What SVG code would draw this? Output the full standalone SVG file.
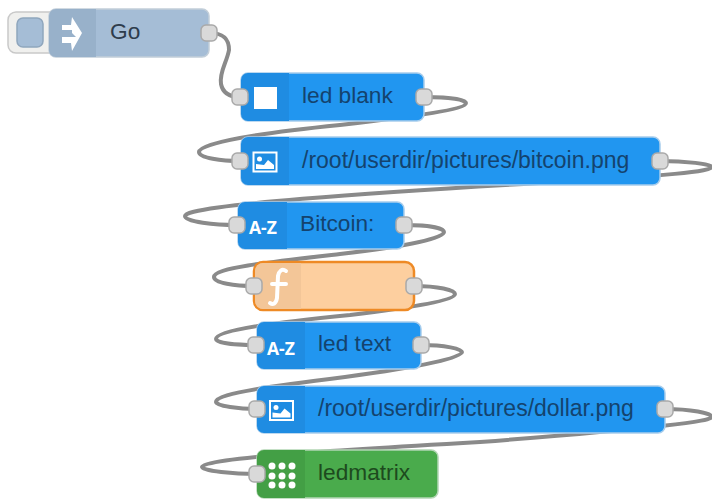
<svg xmlns="http://www.w3.org/2000/svg" width="712" height="500" viewBox="0 0 712 500">
<style>
text{font-family:"Liberation Sans",Arial,sans-serif;font-size:22.700px}
.long{font-size:23px}
.wire{fill:none;stroke:#8a8a8a;stroke-width:4}
.port{fill:#d9d9d9;stroke:#a9a9a9;stroke-width:1.5}
.blue{fill:#2196f0;stroke:#a8cdec;stroke-width:1.5}
.tab{fill:#1f8ce2}
.lbl{fill:#14436e}
.ic{fill:#fff}
.az{font-family:"Open Sans","Liberation Sans",sans-serif;font-size:17.500px;font-weight:700;fill:#fff}
</style>
<defs>
<g id="img"><rect x="-11.500" y="-9.500" width="23" height="19" fill="none" stroke="#fff" stroke-width="2"/><circle cx="-5.500" cy="-3" r="2.500" fill="#fff"/><path d="M-9 7V2L-5 2.500L-1 3L3 -2L9 3V7Z" fill="#fff"/></g>
<rect id="p" x="-8" y="-8" width="16" height="16" rx="5"/>
</defs>
<g id="connectors" class="wires">
<path class="wire" d="M209 33C226 33 229 41 229 50C227 62 219 72 221 84C223 94 231 97 240 97"/>
<path class="wire" d="M424 97C450 97 466 100 466 103C466 109 420 116 340 125C260 133 199 143 199 152C199 158 222 161 240 161"/>
<path class="wire" d="M660 161C685 161 712 164 712 167C712 171 670 176 540 183C380 192 185 205 185 216C185 222 215 225 237 225"/>
<path class="wire" d="M404 225C428 225 444 228 444 232C444 238 410 246 340 254C270 262 214 268 214 277C214 283 235 286 254 286"/>
<path class="wire" d="M414 286C438 286 455 290 455 294C455 300 415 307 350 315C280 322 216 330 216 339C216 343 235 345 256 345"/>
<path class="wire" d="M421 345C445 345 462 349 462 352C462 358 420 367 345 377C280 385 216 393 216 402C216 406 240 409 257 409"/>
<path class="wire" d="M665 409C690 409 712 413 712 417C712 421 660 428 480 442C340 450 202 458 202 467C202 471 235 474 257 474"/>
</g>
<g id="node-go">
<rect x="8" y="12" width="50" height="41" rx="8" fill="#f0f0ee" stroke="#c9c9c9" stroke-width="1.500"/>
<rect x="17" y="18" width="26" height="29" rx="6" fill="#a5bdd6" stroke="#8fa6bd" stroke-width="1.500"/>
<rect x="49" y="9" width="160" height="48" rx="7" fill="#a5bdd6" stroke="#c2ced9" stroke-width="1.500"/>
<path d="M56 9H96V57H56A7 7 0 0 1 49 50V16A7 7 0 0 1 56 9Z" fill="#98b1ca"/>
<path d="M72 17L82 33L72 51L71 43H62V37H76L72 33V30H62V25H71Z" class="ic"/>
<text x="110" y="39" fill="#2e3c4c">Go</text>
<use href="#p" x="209" y="33" class="port"/>
</g>
<g id="node-led-blank">
<rect x="241" y="73" width="183" height="48" rx="7" class="blue"/>
<path d="M248 73H289V121H248A7 7 0 0 1 241 114V80A7 7 0 0 1 248 73Z" class="tab"/>
<rect x="254" y="87" width="23" height="22" class="ic"/>
<text x="302" y="103" class="lbl">led blank</text>
<use href="#p" x="240" y="97" class="port"/><use href="#p" x="424" y="97" class="port"/>
</g>
<g id="node-bitcoin-png">
<rect x="241" y="137" width="419" height="48" rx="7" class="blue"/>
<path d="M248 137H289V185H248A7 7 0 0 1 241 178V144A7 7 0 0 1 248 137Z" class="tab"/>
<use href="#img" x="265" y="162"/>
<text x="302" y="168" class="lbl long">/root/userdir/pictures/bitcoin.png</text>
<use href="#p" x="240" y="161" class="port"/><use href="#p" x="660" y="161" class="port"/>
</g>
<g id="node-bitcoin">
<rect x="238" y="202" width="166" height="47" rx="7" class="blue"/>
<path d="M245 202H287V249H245A7 7 0 0 1 238 242V209A7 7 0 0 1 245 202Z" class="tab"/>
<text x="249" y="234" class="az">A-Z</text>
<text x="300" y="231" class="lbl">Bitcoin:</text>
<use href="#p" x="237" y="225" class="port"/><use href="#p" x="404" y="225" class="port"/>
</g>
<g id="node-function">
<rect x="254" y="262" width="160" height="48" rx="9" fill="#fdcf9f" stroke="#ee8a25" stroke-width="2.500"/>
<path d="M263 263H301V309H263A8 8 0 0 1 255 301V271A8 8 0 0 1 263 263Z" fill="#f3c698"/>
<path d="M286 271C282 268 279 271 278 276L277 298C276 304 273 305 270 303M272 284H286" fill="none" stroke="#fff" stroke-width="4" stroke-linecap="round"/>
<use href="#p" x="254" y="286" class="port"/><use href="#p" x="414" y="286" class="port"/>
</g>
<g id="node-led-text">
<rect x="257" y="322" width="164" height="47" rx="7" class="blue"/>
<path d="M264 322H305V369H264A7 7 0 0 1 257 362V329A7 7 0 0 1 264 322Z" class="tab"/>
<text x="267" y="355" class="az">A-Z</text>
<text x="318" y="351" class="lbl">led text</text>
<use href="#p" x="256" y="345" class="port"/><use href="#p" x="421" y="345" class="port"/>
</g>
<g id="node-dollar-png">
<rect x="257" y="386" width="408" height="47" rx="7" class="blue"/>
<path d="M264 386H305V433H264A7 7 0 0 1 257 426V393A7 7 0 0 1 264 386Z" class="tab"/>
<use href="#img" x="281.500" y="410.500"/>
<text x="318" y="416" class="lbl long">/root/userdir/pictures/dollar.png</text>
<use href="#p" x="257" y="409" class="port"/><use href="#p" x="665" y="409" class="port"/>
</g>
<g id="node-ledmatrix">
<rect x="257" y="450" width="181" height="48" rx="7" fill="#4aab4c" stroke="#b3d6b4" stroke-width="1.500"/>
<path d="M264 450H305V498H264A7 7 0 0 1 257 491V457A7 7 0 0 1 264 450Z" fill="#439f45"/>
<g class="ic"><circle cx="272" cy="466" r="3.500"/><circle cx="282" cy="466" r="3.500"/><circle cx="292" cy="466" r="3.500"/><circle cx="272" cy="476" r="3.500"/><circle cx="282" cy="476" r="3.500"/><circle cx="292" cy="476" r="3.500"/><circle cx="272" cy="485" r="3.500"/><circle cx="282" cy="485" r="3.500"/><circle cx="292" cy="485" r="3.500"/></g>
<text x="318" y="480" fill="#1d4a1e">ledmatrix</text>
<use href="#p" x="257" y="474" class="port"/>
</g>
</svg>
